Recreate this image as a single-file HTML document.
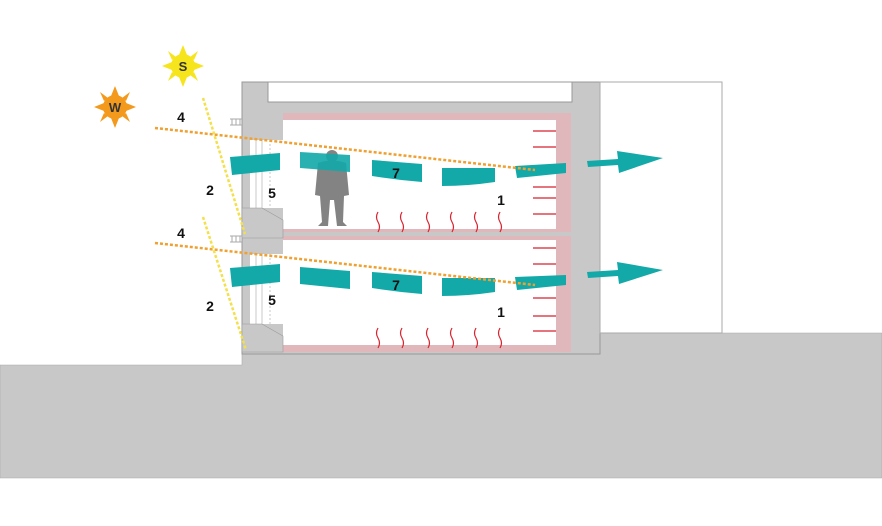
<!DOCTYPE html>
<html><head><meta charset="utf-8"><style>html,body{margin:0;padding:0;background:#fff}svg{display:block}</style></head>
<body>
<svg width="882" height="526" viewBox="0 0 882 526" xmlns="http://www.w3.org/2000/svg" font-family="Liberation Sans, sans-serif">
<rect width="882" height="526" fill="#fff"/>
<path d="M0 365 L242 365 L242 352 L600 352 L600 333 L882 333 L882 478 L0 478 Z" fill="#c8c8c8" stroke="#aaa" stroke-width="0.6"/>
<rect x="242" y="82" width="358" height="272" fill="#c8c8c8" stroke="#999" stroke-width="1"/>
<rect x="268" y="82" width="304" height="20" fill="#fff" stroke="#999" stroke-width="1"/>
<rect x="600" y="82" width="122" height="251" fill="#fff" stroke="#aaa" stroke-width="1"/>
<rect x="283" y="113" width="288" height="119" fill="#e0b8bc"/>
<rect x="283" y="236" width="288" height="116" fill="#e0b8bc"/>
<rect x="283" y="120" width="273" height="109" fill="#fff"/>
<rect x="283" y="240" width="273" height="105" fill="#fff"/>
<rect x="556" y="232" width="15" height="4" fill="#c8c8c8"/>
<rect x="250" y="140" width="33" height="68" fill="#fff"/>
<rect x="250" y="254" width="33" height="70" fill="#fff"/>
<g stroke="#bbb" stroke-width="0.8" fill="none">
<line x1="256" y1="140" x2="256" y2="208"/><line x1="262" y1="140" x2="262" y2="208"/><line x1="270" y1="140" x2="270" y2="208" stroke-dasharray="2 2"/>
<line x1="256" y1="254" x2="256" y2="324"/><line x1="262" y1="254" x2="262" y2="324"/><line x1="270" y1="254" x2="270" y2="324" stroke-dasharray="2 2"/>
</g>
<path d="M242 208 L262 208 L283 220 L283 238 L242 238 Z" fill="#c8c8c8" stroke="#999" stroke-width="0.6"/>
<path d="M242 324 L262 324 L283 336 L283 352 L242 352 Z" fill="#c8c8c8" stroke="#999" stroke-width="0.6"/>
<g stroke="#aaa" stroke-width="1" fill="none">
<path d="M230 119 h12 M232 119 v6 M236 119 v6 M240 119 v6 M230 125 h12"/>
<path d="M230 236 h12 M232 236 v6 M236 236 v6 M240 236 v6 M230 242 h12"/>
</g>
<g fill="#6e6e6e" opacity="0.85">
<circle cx="332" cy="156" r="6"/>
<path d="M318 163 Q332 158 346 163 L349 195 L344 196 L343 222 L347 226 L337 226 L334 200 L330 200 L328 226 L318 226 L322 222 L320 196 L315 195 Z"/>
</g>
<g fill="#12a9a8">
<path d="M230 157 L280 153 L280 170 L232 175 Z"/>
<path d="M300 152 L350 155 L350 172 L300 168 Z" opacity="0.9"/>
<path d="M372 160 L422 164 L422 182 Q397 180 372 176 Z"/>
<path d="M442 168 L495 168 L495 182 Q468 186 442 186 Z"/>
<path d="M515 166 L566 163 L566 173 L517 178 Z"/>
<path d="M230 268 L280 264 L280 282 L232 287 Z"/>
<path d="M300 267 L350 271 L350 289 L300 284 Z"/>
<path d="M372 272 L422 276 L422 294 Q397 292 372 288 Z"/>
<path d="M442 278 L495 278 L495 292 Q468 296 442 296 Z"/>
<path d="M515 277 L566 275 L566 285 L517 290 Z"/>
<path d="M587 161 L618 159 L617 151 L663 158 L619 173 L618 165 L588 167 Z"/>
<path d="M587 272 L618 270 L617 262 L663 270 L619 284 L618 276 L588 278 Z"/>
</g>
<g stroke="#d8222e" stroke-width="1.2" fill="none">
<path d="M378 212 q-3 5 0 10 q3 5 0 10"/><path d="M402 212 q-3 5 0 10 q3 5 0 10"/><path d="M428 212 q-3 5 0 10 q3 5 0 10"/><path d="M452 212 q-3 5 0 10 q3 5 0 10"/><path d="M476 212 q-3 5 0 10 q3 5 0 10"/><path d="M500 212 q-3 5 0 10 q3 5 0 10"/>
<path d="M378 328 q-3 5 0 10 q3 5 0 10"/><path d="M402 328 q-3 5 0 10 q3 5 0 10"/><path d="M428 328 q-3 5 0 10 q3 5 0 10"/><path d="M452 328 q-3 5 0 10 q3 5 0 10"/><path d="M476 328 q-3 5 0 10 q3 5 0 10"/><path d="M500 328 q-3 5 0 10 q3 5 0 10"/>
<path d="M533 131 H556 M533 147 H556 M533 187 H556 M533 198 H556 M533 214 H556"/>
<path d="M533 248 H556 M533 264 H556 M533 298 H556 M533 316 H556 M533 331 H556"/>
</g>
<g fill="none" stroke-width="2.5" stroke-dasharray="3 2">
<line x1="155" y1="128" x2="535" y2="170" stroke="#f0a030"/>
<line x1="155" y1="243" x2="535" y2="285" stroke="#f0a030"/>
<line x1="203" y1="98" x2="245" y2="234" stroke="#f3e04a"/>
<line x1="203" y1="217" x2="246" y2="350" stroke="#f3e04a"/>
</g>
<g fill="#f6e51c">
<polygon points="183,45 187,55 179,55"/><polygon points="183,87 187,77 179,77"/><polygon points="162,66 172,62 172,70"/><polygon points="204,66 194,62 194,70"/>
<polygon points="168,51 176,57 172,60"/><polygon points="198,51 190,57 194,60"/><polygon points="168,81 176,75 172,72"/><polygon points="198,81 190,75 194,72"/>
<circle cx="183" cy="66" r="12"/>
</g>
<text x="183" y="71" font-size="13" font-weight="bold" text-anchor="middle" fill="#333">S</text>
<g fill="#f39a1d">
<polygon points="115,86 119,96 111,96"/><polygon points="115,128 119,118 111,118"/><polygon points="94,107 104,103 104,111"/><polygon points="136,107 126,103 126,111"/>
<polygon points="100,92 108,98 104,101"/><polygon points="130,92 122,98 126,101"/><polygon points="100,122 108,116 104,113"/><polygon points="130,122 122,116 126,113"/>
<circle cx="115" cy="107" r="12"/>
</g>
<text x="115" y="112" font-size="13" font-weight="bold" text-anchor="middle" fill="#333">W</text>
<g font-size="14" font-weight="bold" fill="#111" text-anchor="middle">
<text x="181" y="122">4</text><text x="210" y="195">2</text><text x="272" y="198">5</text><text x="396" y="178">7</text><text x="501" y="205">1</text>
<text x="181" y="238">4</text><text x="210" y="311">2</text><text x="272" y="305">5</text><text x="396" y="290">7</text><text x="501" y="317">1</text>
</g>
</svg>
</body></html>
